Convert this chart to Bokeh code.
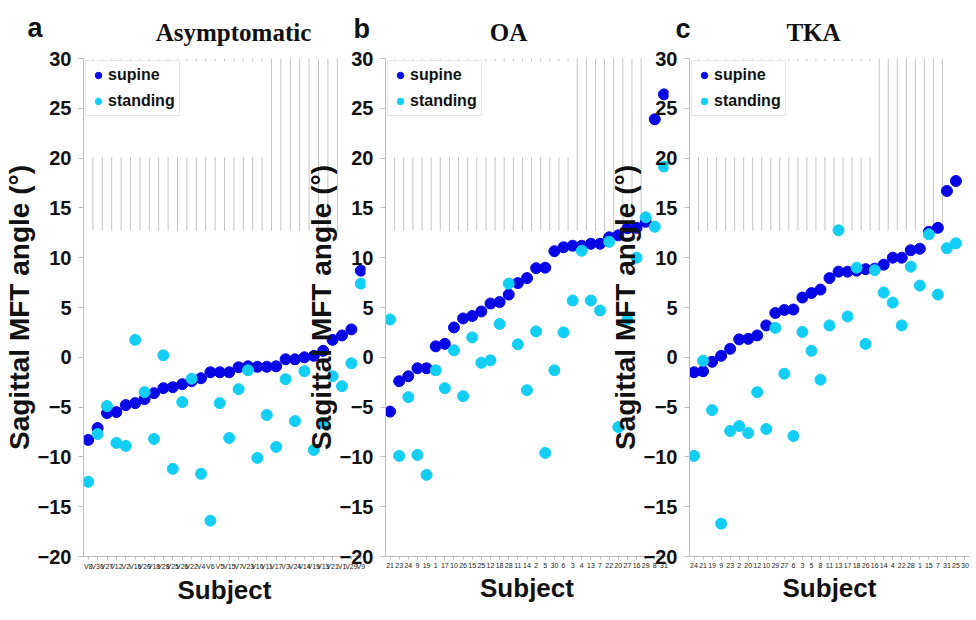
import numpy as np
from bokeh.plotting import figure
from bokeh.models import Range1d, FactorRange, FixedTicker, ColumnDataSource
from bokeh.core.properties import value
from bokeh.layouts import row, column
from bokeh.embed import file_html
from bokeh.resources import INLINE

# ---------------- data ----------------
y_ticks = [-20, -15, -10, -5, 0, 5, 10, 15, 20, 25, 30]

asym_subjects = ["V8", "V30", "V27", "V12", "V2", "V16", "V20", "V18", "V28", "V25",
                 "V26", "V22", "V4", "V6", "V5", "V15", "V7", "V23", "V10", "V11",
                 "V17", "V3", "V24", "V14", "V19", "V13", "V21", "V1", "V29", "V9"]
asym_supine = [-8.3, -7.1, -5.6, -5.5, -4.8, -4.6, -4.2, -3.6, -3.1, -3.0,
               -2.7, -2.4, -2.1, -1.5, -1.5, -1.5, -1.0, -0.9, -0.95, -0.95,
               -0.9, -0.2, -0.2, 0.0, 0.15, 0.65, 1.75, 2.2, 2.8, 8.7]
asym_standing = [-12.5, -7.7, -4.9, -8.6, -8.9, 1.75, -3.5, -8.2, 0.2, -11.2,
                 -4.5, -2.15, -11.7, -16.4, -4.6, -8.1, -3.2, -1.3, -10.1, -5.8,
                 -9.0, -2.2, -6.4, -1.4, -9.3, -6.6, -1.9, -2.9, -0.6, 7.4]

oa_subjects = ["21", "23", "24", "9", "19", "1", "17", "10", "26", "15",
               "25", "12", "18", "28", "11", "14", "2", "5", "30", "6",
               "3", "4", "13", "7", "22", "20", "27", "16", "29", "8", "31"]
oa_supine = [-5.45, -2.4, -1.9, -1.1, -1.1, 1.1, 1.35, 3.0, 3.9, 4.15,
             4.6, 5.4, 5.55, 6.3, 7.45, 7.95, 8.95, 9.0, 10.65, 11.05,
             11.2, 11.2, 11.4, 11.4, 12.05, 12.25, 12.95, 13.0, 13.6, 23.9, 26.4]
oa_standing = [3.8, -9.9, -4.0, -9.8, -11.8, -1.3, -3.1, 0.7, -3.9, 2.0,
               -0.55, -0.3, 3.35, 7.4, 1.3, -3.3, 2.6, -9.6, -1.3, 2.5,
               5.7, 10.7, 5.7, 4.7, 11.6, -7.0, 3.8, 10.0, 14.05, 13.1, 19.15]

tka_subjects = ["24", "21", "19", "9", "23", "2", "20", "12", "10", "29",
                "27", "6", "3", "5", "8", "11", "13", "17", "18", "26",
                "16", "14", "4", "22", "28", "1", "15", "7", "31", "25", "30"]
tka_supine = [-1.5, -1.4, -0.45, 0.15, 0.85, 1.8, 1.85, 2.2, 3.2, 4.45,
              4.75, 4.8, 6.0, 6.45, 6.8, 7.95, 8.6, 8.6, 8.7, 8.85,
              8.9, 9.3, 10.0, 10.0, 10.75, 10.9, 12.6, 13.0, 16.7, 17.7, None]
tka_standing = [-9.9, -0.35, -5.3, -16.7, -7.4, -6.9, -7.6, -3.5, -7.2, 2.95,
                -1.65, -7.9, 2.55, 0.65, -2.25, 3.2, 12.75, 4.1, 9.0, 1.35,
                8.75, 6.5, 5.5, 3.2, 9.1, 7.2, 12.35, 6.3, 10.95, 11.45, None]

panel_letters = ["a", "b", "c"]
panel_titles = ["Asymptomatic", "OA", "TKA"]

# ---------------- style ----------------
SUPINE_COLOR = "#0505E6"
STANDING_COLOR = "#12CDF4"
AXIS_GRAY = "#bdbdbd"
GUIDE_GRAY = "#c4c4c4"
SANS = "Liberation Sans"
SERIF = "Liberation Serif"

HEADER_H = 46
FRAME_H = 498
BORDER_TOP = 12
BORDER_BOTTOM = 46
BORDER_LEFT = 75


def make_panel(subjects, supine, standing, frame_w, border_right,
               short_guides, tall_guides):
    src = ColumnDataSource(dict(
        x=subjects,
        supine=np.array(supine, dtype=float),
        standing=np.array(standing, dtype=float),
    ))
    p = figure(x_range=FactorRange(factors=subjects, range_padding=0),
               y_range=Range1d(-20, 30),
               frame_width=frame_w, frame_height=FRAME_H,
               min_border_left=BORDER_LEFT, min_border_right=border_right,
               min_border_top=BORDER_TOP, min_border_bottom=BORDER_BOTTOM,
               output_backend="svg", toolbar_location=None)
    p.margin = 0
    p.border_fill_alpha = 0
    p.outline_line_color = None
    p.xgrid.visible = False
    p.ygrid.visible = False

    # category-boundary guide lines (as in the original figure)
    xs = list(short_guides)
    p.segment(x0=xs, y0=[12.7] * len(xs), x1=xs, y1=[20.1] * len(xs),
              line_color=GUIDE_GRAY, line_width=1)
    p.segment(x0=xs, y0=[29.7] * len(xs), x1=xs, y1=[30] * len(xs),
              line_color=GUIDE_GRAY, line_width=1)
    xt = list(tall_guides)
    p.segment(x0=xt, y0=[12.7] * len(xt), x1=xt, y1=[30] * len(xt),
              line_color=GUIDE_GRAY, line_width=1)

    p.scatter(x="x", y="supine", source=src, size=11, color=SUPINE_COLOR,
              line_color=SUPINE_COLOR, legend_label="supine")
    p.scatter(x="x", y="standing", source=src, size=11, color=STANDING_COLOR,
              line_color=STANDING_COLOR, legend_label="standing")

    # y axis
    ya = p.yaxis[0]
    ya.ticker = FixedTicker(ticks=y_ticks)
    ya.axis_line_color = AXIS_GRAY
    ya.major_tick_line_color = AXIS_GRAY
    ya.minor_tick_line_color = None
    ya.major_tick_out = 5
    ya.major_tick_in = 0
    ya.major_label_standoff = 7
    ya.major_label_text_font = SANS
    ya.major_label_text_font_style = "bold"
    ya.major_label_text_font_size = "20px"
    ya.major_label_text_color = "#111111"
    ya.axis_label = "Sagittal MFT angle (°)"
    ya.axis_label_text_font = SANS
    ya.axis_label_text_font_style = "bold"
    ya.axis_label_text_font_size = "28px"
    ya.axis_label_text_color = "#111111"
    ya.axis_label_standoff = 0

    # x axis
    xa = p.xaxis[0]
    xa.axis_line_color = AXIS_GRAY
    xa.major_tick_line_color = AXIS_GRAY
    xa.major_tick_out = 3
    xa.major_tick_in = 0
    xa.major_label_standoff = 3
    xa.major_label_text_font = SANS
    xa.major_label_text_font_size = "7px"
    xa.major_label_text_color = "#222222"
    xa.axis_label = "Subject"
    xa.axis_label_text_font = SANS
    xa.axis_label_text_font_style = "bold"
    xa.axis_label_text_font_size = "26px"
    xa.axis_label_text_color = "#111111"
    xa.axis_label_standoff = 2

    # legend
    lg = p.legend[0]
    lg.location = "top_left"
    lg.margin = 2
    lg.padding = 4
    lg.spacing = 6
    lg.glyph_width = 16
    lg.glyph_height = 20
    lg.label_standoff = 2
    lg.label_height = 20
    lg.label_text_font = SANS
    lg.label_text_font_style = "bold"
    lg.label_text_font_size = "16px"
    lg.label_text_color = "#111111"
    lg.border_line_color = "#cccccc"
    lg.border_line_width = 1
    lg.background_fill_color = "white"
    lg.background_fill_alpha = 1
    return p


pa = make_panel(asym_subjects, asym_supine, asym_standing, 282, 5, range(1, 20), range(20, 28))
pb = make_panel(oa_subjects, oa_supine, oa_standing, 283, 5, range(1, 21), range(21, 29))
pc = make_panel(tka_subjects, tka_supine, tka_standing, 280, 2, range(1, 21), range(21, 29))

# panels overlap like in the original composite figure
pb.margin = (0, 0, 0, -68)
pc.margin = (0, 0, 0, -67)

# ---------------- header strip with panel letters and titles ----------------
hdr = figure(width=960, height=HEADER_H, x_range=Range1d(0, 960), y_range=Range1d(HEADER_H, 0),
             x_axis_type=None, y_axis_type=None, min_border=0,
             output_backend="svg", toolbar_location=None)
hdr.margin = 0
hdr.outline_line_color = None
hdr.border_fill_alpha = 0
hdr.background_fill_alpha = 0
hdr.text(x=[27, 353, 675], y=[27, 28, 28], text=panel_letters,
         text_font=value(SANS), text_font_style="bold", text_font_size="27px",
         text_color="#111111", text_baseline="alphabetic", text_align="left")
hdr.text(x=[233, 508, 813], y=[32, 32, 32], text=panel_titles,
         text_font=value(SERIF), text_font_style="bold", text_font_size="25px",
         text_color="#111111", text_baseline="alphabetic", text_align="center")

panels = row(pa, pb, pc)
panels.margin = 0
layout = column(hdr, panels)
layout.margin = 0

open("out.html", "w").write(file_html(layout, INLINE))
